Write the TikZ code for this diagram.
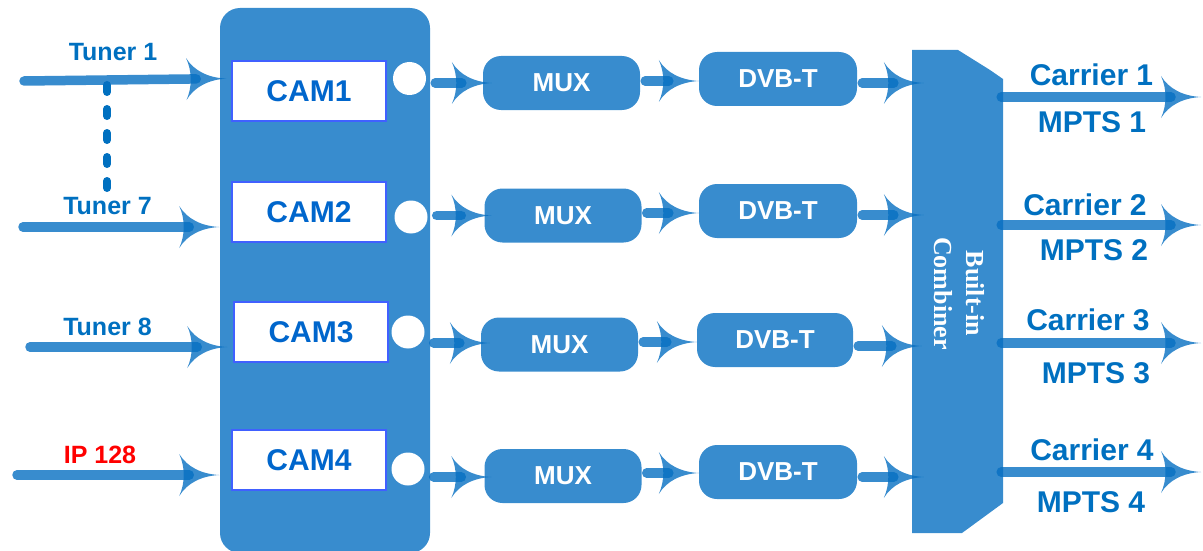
\documentclass[tikz,border=0pt]{standalone}
\usepackage{fontspec}
\setmainfont{Liberation Sans}
\newfontfamily\serifbold{Liberation Serif}
\usetikzlibrary{arrows.meta}

\pgfdeclarearrow{
  name = Swoosh,
  setup code = {
    \pgfarrowssettipend{0pt}
    \pgfarrowssetlineend{-30pt}
    \pgfarrowssetbackend{-40pt}
    \pgfarrowshullpoint{0pt}{0pt}
    \pgfarrowsupperhullpoint{-40pt}{21pt}
  },
  drawing code = {
    \pgfpathmoveto{\pgfqpoint{0pt}{0pt}}
    \pgfpathcurveto{\pgfqpoint{-18pt}{1pt}}{\pgfqpoint{-32pt}{8pt}}{\pgfqpoint{-40pt}{21pt}}
    \pgfpathcurveto{\pgfqpoint{-34pt}{8pt}}{\pgfqpoint{-34pt}{-8pt}}{\pgfqpoint{-40pt}{-21pt}}
    \pgfpathcurveto{\pgfqpoint{-32pt}{-8pt}}{\pgfqpoint{-18pt}{-1pt}}{\pgfqpoint{0pt}{0pt}}
    \pgfpathclose
    \pgfusepathqfill
  }
}

\definecolor{blk}{RGB}{56,140,206}
\definecolor{arr}{RGB}{6,111,194}
\definecolor{txt}{RGB}{0,112,192}
\definecolor{camtxt}{RGB}{0,102,204}
\definecolor{camedge}{RGB}{64,96,255}
\definecolor{ipred}{RGB}{255,0,0}

\begin{document}
\begin{tikzpicture}[x=1pt,y=-1pt,
  flow/.style={line width=9.5pt, line cap=round, draw=arr, opacity=0.8, -Swoosh},
  cambox/.style={draw=camedge, line width=1.5pt, fill=white, minimum width=154pt,
    minimum height=60pt, inner sep=0pt, font=\fontsize{30}{36}\selectfont\bfseries, text=camtxt},
  procbox/.style={fill=blk, rounded corners=18pt, minimum width=157pt, minimum height=54pt,
    inner sep=0pt, font=\fontsize{26}{30}\selectfont\bfseries, text=white},
  port/.style={circle, fill=white, minimum size=33pt, inner sep=0pt},
  inlbl/.style={font=\fontsize{25}{30}\selectfont\bfseries, text=txt, inner sep=0pt},
  outlbl/.style={font=\fontsize{30}{36}\selectfont\bfseries, text=txt, inner sep=0pt},
  dotline/.style={line width=8pt, line cap=round, dash pattern=on 7pt off 17pt, draw=txt}]

\useasboundingbox (0,0) rectangle (1203,551);

% main board
\node[fill=blk, rounded corners=20pt, minimum width=210pt, minimum height=545pt, inner sep=0pt]
  (board) at (325,280.5) {};

% CAM boxes
\node[cambox] (cam1) at (309,91) {CAM1};
\node[cambox] (cam2) at (309,212) {CAM2};
\node[cambox] (cam3) at (311,332) {CAM3};
\node[cambox] (cam4) at (309,460) {CAM4};

% ports
\node[port] (p1) at (409.5,78.5) {};
\node[port] (p2) at (411,217) {};
\node[port] (p3) at (408,332) {};
\node[port] (p4) at (408,469) {};

% MUX boxes
\node[procbox] (mux1) at (561.5,83) {MUX};
\node[procbox] (mux2) at (563,215.5) {MUX};
\node[procbox] (mux3) at (559.5,344.5) {MUX};
\node[procbox] (mux4) at (563,476) {MUX};

% DVB-T boxes
\node[procbox, minimum width=158pt] (dvb1) at (778,79) {DVB-T};
\node[procbox, minimum width=158pt] (dvb2) at (778,211) {DVB-T};
\node[procbox, minimum width=156pt] (dvb3) at (775,340) {DVB-T};
\node[procbox, minimum width=158pt] (dvb4) at (778,472) {DVB-T};

% combiner
\fill[blk] (912,50) -- (958,50) -- (990,70) .. controls (997,74) .. (1003,79)
  -- (1003,503) -- (962,533) -- (912,533) -- cycle;
\node[minimum width=91pt, minimum height=483pt, inner sep=0pt] (comb) at (957.5,291.5) {};
\node[rotate=-90, align=center, text=white, inner sep=0pt,
  font=\serifbold\fontsize{26}{32}\selectfont\bfseries] (combtxt) at (959,293.5) {Built-in\\Combiner};

% input labels
\node[inlbl] (l1) at (113,52.5) {Tuner 1};
\node[inlbl] (l7) at (107.5,206) {Tuner 7};
\node[inlbl] (l8) at (107.5,327) {Tuner 8};
\node[inlbl, text=ipred] (lip) at (100,455) {IP 128};

% input start points
\coordinate (in1) at (24,81);
\coordinate (in2) at (23,227);
\coordinate (in3) at (30,347);
\coordinate (in4) at (17,475);

% dashed link
\coordinate (d1) at (107,85);
\coordinate (d2) at (107,190);
\draw[dotline] (d1) -- (d2);

% input arrows
\draw[flow, shorten >=5pt] (in1) -- (cam1.west |- p1);
\draw[flow, shorten >=12pt] (in2) -- (in2 -| cam2.west);
\draw[flow, shorten >=6pt] (in3) -- (in3 -| cam3.west);
\draw[flow, shorten >=12pt] (in4) -- (in4 -| cam4.west);

% port -> MUX
\draw[flow, shorten <=9pt, shorten >=-9pt] (p1.east |- mux1) -- (mux1.west);
\draw[flow, shorten <=9pt, shorten >=-7pt] (p2.east |- mux2) -- (mux2.west);
\draw[flow, shorten <=9pt, shorten >=-9pt] (p3.east |- 0,343) -- (mux3.west |- 0,343);
\draw[flow, shorten <=9pt, shorten >=-7pt] (p4.east |- 0,477) -- (mux4.west |- 0,477);

% MUX -> DVB-T
\draw[flow, shorten <=5pt] (mux1.east |- 0,81) -- (dvb1.west |- 0,81);
\draw[flow, shorten <=5pt] (mux2.east |- 0,213) -- (dvb2.west |- 0,213);
\draw[flow, shorten <=5pt] (mux3.east |- 0,342) -- (dvb3.west |- 0,342);
\draw[flow, shorten <=5pt] (mux4.east |- 0,473) -- (dvb4.west |- 0,473);

% DVB-T -> combiner
\draw[flow, shorten <=5pt, shorten >=-12pt] (dvb1.east |- 0,83) -- (comb.west |- 0,83);
\draw[flow, shorten <=5pt, shorten >=-12pt] (dvb2.east |- 0,215) -- (comb.west |- 0,215);
\draw[flow, shorten <=5pt, shorten >=-10pt] (dvb3.east |- 0,346) -- (comb.west |- 0,346);
\draw[flow, shorten <=5pt, shorten >=-12pt] (dvb4.east |- 0,477) -- (comb.west |- 0,477);

% outputs
\coordinate (o1) at (1201,97);
\coordinate (o2) at (1201,225);
\coordinate (o3) at (1201,343);
\coordinate (o4) at (1201,472);
\draw[flow, shorten <=-2pt] (comb.east |- o1) -- (o1);
\draw[flow, shorten <=-2pt] (comb.east |- o2) -- (o2);
\draw[flow, shorten <=-2pt] (comb.east |- o3) -- (o3);
\draw[flow, shorten <=-2pt] (comb.east |- o4) -- (o4);

% output labels
\node[outlbl] (c1) at (1091.5,75) {Carrier 1};
\node[outlbl] (m1) at (1092,122) {MPTS 1};
\node[outlbl] (c2) at (1085,205) {Carrier 2};
\node[outlbl] (m2) at (1094,250) {MPTS 2};
\node[outlbl] (c3) at (1088,320) {Carrier 3};
\node[outlbl] (m3) at (1096,373) {MPTS 3};
\node[outlbl] (c4) at (1092,450) {Carrier 4};
\node[outlbl] (m4) at (1091,502) {MPTS 4};
\end{tikzpicture}
\end{document}
